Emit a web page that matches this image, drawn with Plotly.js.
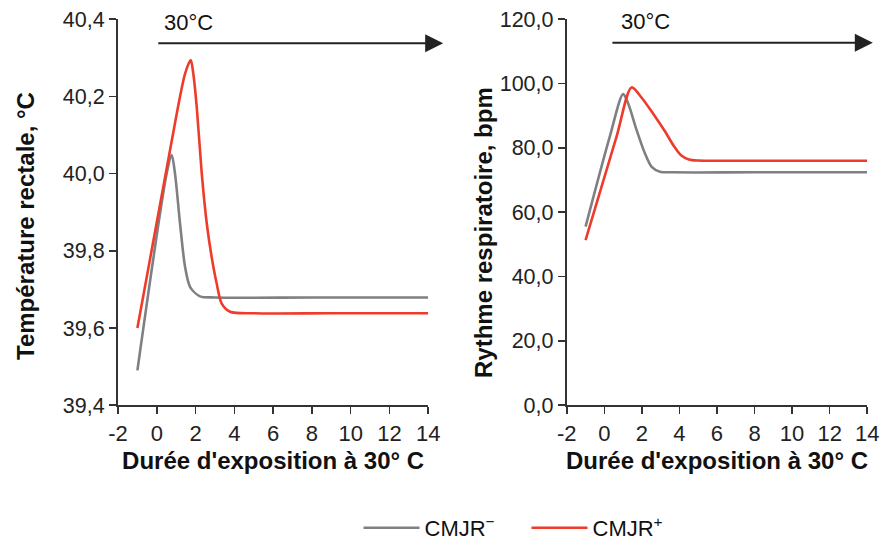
<!DOCTYPE html>
<html>
<head>
<meta charset="utf-8">
<script src="https://cdn.plot.ly/plotly-3.0.1.min.js"></script>
<style>html,body{margin:0;padding:0;background:#fff;}#chart{width:894px;height:549px;}</style>
</head>
<body>
<div id="chart"></div>
<script>
// Température rectale (°C)
const tempNegX = [-1, 0.51, 0.77, 0.94, 1.2, 1.46, 1.72, 2.23, 3.0, 8, 14];
const tempNegY = [39.49, 40.0, 40.048, 40.0, 39.87, 39.758, 39.706, 39.682, 39.679, 39.679, 39.679];
const tempPosX = [-1, 0.68, 1.46, 1.75, 1.88, 2.06, 2.32, 2.58, 2.83, 3.09, 3.35, 3.78, 5, 9, 14];
const tempPosY = [39.60, 40.06, 40.259, 40.294, 40.26, 40.173, 40.0, 39.87, 39.784, 39.715, 39.663, 39.642, 39.638, 39.638, 39.638];
// Rythme respiratoire (bpm)
const respNegX = [-1, 0.29, 1.0, 1.27, 1.72, 2.16, 2.52, 2.96, 3.6, 8, 14];
const respNegY = [55.5, 83.5, 96.7, 93.8, 85.5, 78.3, 74.1, 72.6, 72.4, 72.4, 72.4];
const respPosX = [-1, 0.65, 1.45, 2.0, 2.6, 3.2, 3.7, 4.1, 4.5, 5.0, 6, 10, 14];
const respPosY = [51.3, 83.5, 98.8, 95.5, 90.6, 85.4, 80.6, 77.6, 76.4, 76.05, 76.0, 76.0, 76.0];

const xTicks = [-2, 0, 2, 4, 6, 8, 10, 12, 14];
const xTickText = ["-2", "0", "2", "4", "6", "8", "10", "12", "14"];
const tempTicks = [39.4, 39.6, 39.8, 40.0, 40.2, 40.4];
const tempTickText = ["39,4", "39,6", "39,8", "40,0", "40,2", "40,4"];
const respTicks = [0, 20, 40, 60, 80, 100, 120];
const respTickText = ["0,0", "20,0", "40,0", "60,0", "80,0", "100,0", "120,0"];

const seriesNames = ["CMJR<sup>−</sup>", "CMJR<sup>+</sup>"];
const titles = {
  temp: "Température rectale, °C",
  resp: "Rythme respiratoire, bpm",
  x: "Durée d'exposition à 30° C",
  heat: "30°C"
};
const grey = "#7f8083";
const red = "#ee3b2b";
const FONT = "Liberation Sans, Arial, sans-serif";

const lineOpts = (c) => ({color: c, width: 2.6, shape: "spline", smoothing: 0.8});

const traces = [
  {x: tempNegX, y: tempNegY, xaxis: "x", yaxis: "y", mode: "lines", line: lineOpts(grey), name: seriesNames[0], legendgroup: "neg"},
  {x: tempPosX, y: tempPosY, xaxis: "x", yaxis: "y", mode: "lines", line: lineOpts(red), name: seriesNames[1], legendgroup: "pos"},
  {x: respNegX, y: respNegY, xaxis: "x2", yaxis: "y2", mode: "lines", line: lineOpts(grey), name: seriesNames[0], legendgroup: "neg", showlegend: false},
  {x: respPosX, y: respPosY, xaxis: "x2", yaxis: "y2", mode: "lines", line: lineOpts(red), name: seriesNames[1], legendgroup: "pos", showlegend: false}
];

const axisCommon = {
  showgrid: false, zeroline: false, showline: true, linecolor: "#333", linewidth: 2,
  ticks: "outside", ticklen: 7, tickwidth: 1.5, tickcolor: "#333"
};
const xTitle = {text: titles.x, font: {family: FONT, size: 24, color: "#111", weight: "bold"}, standoff: 8};
const xTickFont = {family: FONT, size: 22, color: "#222"};
const yTickFont = {family: FONT, size: 21.5, color: "#222"};
const yTitleFont = {family: FONT, size: 24, color: "#111", weight: "bold"};

const layout = {
  width: 894, height: 549,
  margin: {l: 0, r: 0, t: 0, b: 0},
  paper_bgcolor: "#fff", plot_bgcolor: "#fff",
  font: {family: FONT, color: "#222"},
  xaxis: Object.assign({}, axisCommon, {domain: [0.132, 0.479], range: [-2, 14], tickvals: xTicks, ticktext: xTickText, tickfont: xTickFont, anchor: "y", title: xTitle}),
  yaxis: Object.assign({}, axisCommon, {domain: [0.262, 0.965], range: [39.4, 40.4], tickvals: tempTicks, ticktext: tempTickText, tickfont: yTickFont, anchor: "x"}),
  xaxis2: Object.assign({}, axisCommon, {domain: [0.634, 0.970], range: [-2, 14], tickvals: xTicks, ticktext: xTickText, tickfont: xTickFont, anchor: "y2", title: xTitle}),
  yaxis2: Object.assign({}, axisCommon, {domain: [0.262, 0.965], range: [0, 120], tickvals: respTicks, ticktext: respTickText, tickfont: yTickFont, anchor: "x2"}),
  showlegend: true,
  legend: {orientation: "h", x: 0.401, xanchor: "left", y: 0.0, yanchor: "bottom", font: {family: FONT, size: 22, color: "#111"}, itemwidth: 56, entrywidth: 97},
  annotations: [
    {x: 26 / 894, y: 1 - 226 / 549, xref: "paper", yref: "paper", text: titles.temp, textangle: -90, showarrow: false, xanchor: "center", yanchor: "middle", font: yTitleFont},
    {x: 484 / 894, y: 1 - 232 / 549, xref: "paper", yref: "paper", text: titles.resp, textangle: -90, showarrow: false, xanchor: "center", yanchor: "middle", font: yTitleFont},
    {x: 14.77, y: 40.338, ax: 0, ay: 40.338, xref: "x", yref: "y", axref: "x", ayref: "y", showarrow: true, arrowhead: 2, arrowsize: 1.8, arrowwidth: 2, arrowcolor: "#222", text: ""},
    {x: 14.3, y: 112.7, ax: 0.35, ay: 112.7, xref: "x2", yref: "y2", axref: "x2", ayref: "y2", showarrow: true, arrowhead: 2, arrowsize: 1.8, arrowwidth: 2, arrowcolor: "#222", text: ""},
    {x: 1.66, y: 40.392, xref: "x", yref: "y", text: titles.heat, showarrow: false, font: {family: FONT, size: 22, color: "#111"}},
    {x: 2.2, y: 119.2, xref: "x2", yref: "y2", text: titles.heat, showarrow: false, font: {family: FONT, size: 22, color: "#111"}}
  ]
};

Plotly.newPlot("chart", traces, layout, {displayModeBar: false, staticPlot: true});
</script>
</body>
</html>
